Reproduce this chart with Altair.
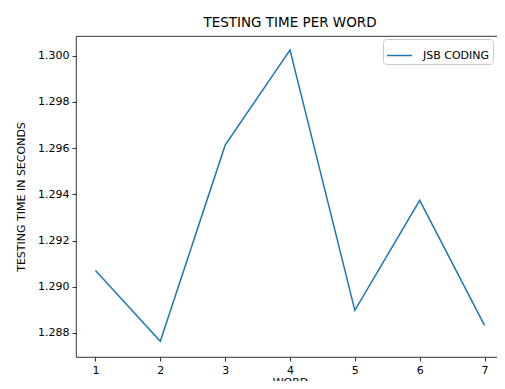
import altair as alt
import pandas as pd

words = [1, 2, 3, 4, 5, 6, 7]
times = [1.29070, 1.28764, 1.29613, 1.30025, 1.28898, 1.29374, 1.28833]
series_name = "JSB CODING"
y_ticks = [1.288, 1.290, 1.292, 1.294, 1.296, 1.298, 1.300]

df = pd.DataFrame({"word": words, "time": times, "series": [series_name] * len(words)})

FONT = "DejaVu Sans"

chart = alt.Chart(df).mark_line(strokeWidth=1.5).encode(
    x=alt.X("word:Q",
            scale=alt.Scale(domain=[0.7, 7.3], nice=False, zero=False),
            axis=alt.Axis(values=words, format="d", title="WORD", titlePadding=1)),
    y=alt.Y("time:Q",
            scale=alt.Scale(domain=[1.28696, 1.300855], nice=False, zero=False),
            axis=alt.Axis(values=y_ticks, format=".3f", title="TESTING TIME IN SECONDS", titlePadding=11)),
    color=alt.Color("series:N",
                    scale=alt.Scale(domain=[series_name], range=["#1f77b4"]),
                    legend=alt.Legend(title=None, orient="none", legendX=307, legendY=3,
                                      symbolType="stroke", symbolStrokeWidth=1.5, symbolSize=625,
                                      labelFont=FONT, labelFontSize=11, labelColor="black",
                                      labelOffset=10, padding=3, fillColor="white",
                                      strokeColor="#cccccc", cornerRadius=3)),
).properties(
    width=428,
    height=321,
    autosize=alt.AutoSizeParams(type="none"),
    padding={"left": 68, "top": 28, "right": -7, "bottom": 24},
    title=alt.TitleParams("TESTING TIME PER WORD", font=FONT, fontSize=13.5, fontWeight="normal",
                          color="black", anchor="middle", frame="group", baseline="alphabetic", offset=-4),
).configure_view(
    stroke="black", strokeWidth=0.8
).configure_axis(
    grid=False, domain=False, tickColor="black", tickSize=4, tickWidth=0.8,
    labelFont=FONT, labelFontSize=11, labelColor="black", labelPadding=3,
    titleFont=FONT, titleFontSize=11, titleFontWeight="normal", titleColor="black",
)

chart.save("out.html", embed_options={"renderer": "svg", "actions": False})
